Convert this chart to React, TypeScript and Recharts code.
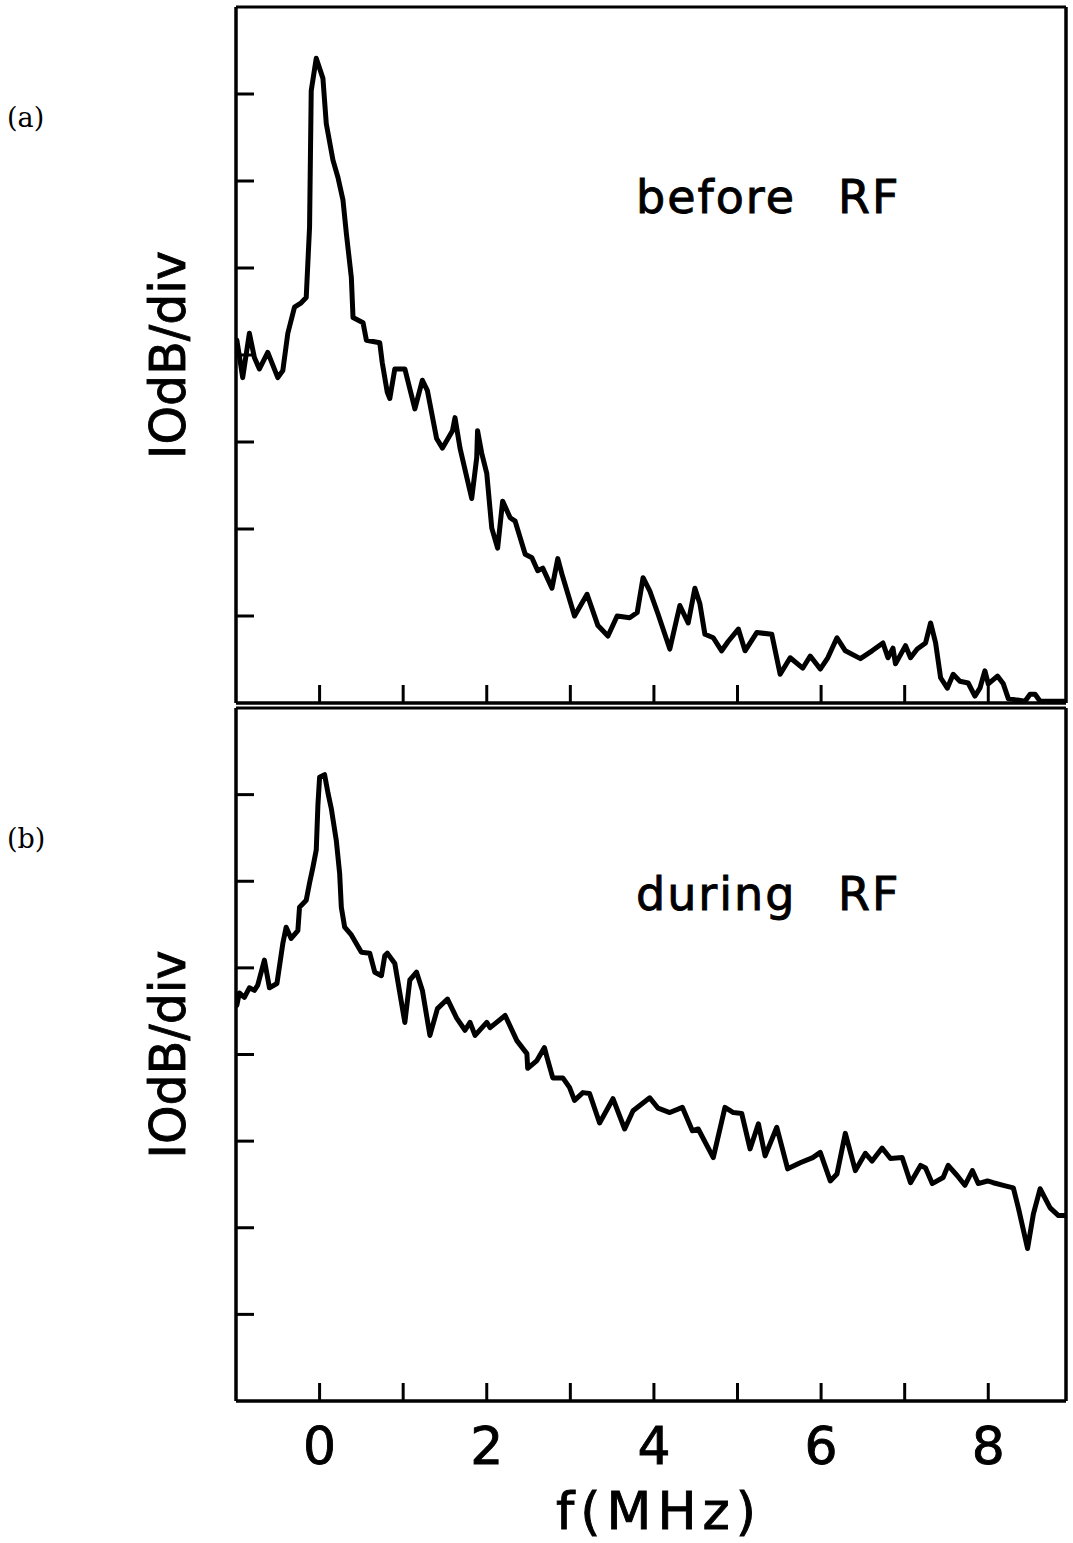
import React from 'react';
import { LineChart, Line, XAxis, YAxis, Customized } from 'recharts';

// Spectrum before RF: [frequency (MHz), level (divisions of 10 dB)]
const beforeRF: [number, number][] = [
  [-0.99, 4.17], [-0.96, 3.99], [-0.92, 3.74], [-0.84, 4.25], [-0.78, 3.97], [-0.72, 3.84], [-0.62, 4.03],
  [-0.5, 3.74], [-0.44, 3.82], [-0.38, 4.25], [-0.3, 4.55], [-0.22, 4.6], [-0.16, 4.66], [-0.12, 5.47],
  [-0.1, 7.04], [-0.04, 7.41], [0.04, 7.18], [0.08, 6.66], [0.16, 6.24], [0.22, 6.04], [0.28, 5.78],
  [0.32, 5.4], [0.38, 4.89], [0.4, 4.43], [0.52, 4.37], [0.56, 4.17], [0.72, 4.14], [0.75, 3.91],
  [0.81, 3.57], [0.84, 3.5], [0.9, 3.84], [1.02, 3.84], [1.14, 3.38], [1.23, 3.71], [1.29, 3.59],
  [1.4, 3.04], [1.47, 2.93], [1.59, 3.13], [1.62, 3.28], [1.68, 2.93], [1.82, 2.35], [1.88, 2.82],
  [1.89, 3.13], [1.94, 2.87], [2.0, 2.64], [2.06, 2.01], [2.13, 1.78], [2.19, 2.32], [2.28, 2.13],
  [2.34, 2.09], [2.46, 1.71], [2.54, 1.67], [2.61, 1.52], [2.67, 1.55], [2.78, 1.32], [2.85, 1.66],
  [2.9, 1.48], [3.05, 1.0], [3.2, 1.25], [3.33, 0.89], [3.45, 0.77], [3.56, 1.0], [3.71, 0.98],
  [3.8, 1.04], [3.87, 1.44], [3.95, 1.29], [4.05, 1.02], [4.19, 0.62], [4.31, 1.12], [4.41, 0.92],
  [4.49, 1.32], [4.55, 1.14], [4.61, 0.79], [4.71, 0.75], [4.81, 0.6], [4.89, 0.71], [5.01, 0.85],
  [5.09, 0.6], [5.23, 0.81], [5.41, 0.79], [5.51, 0.33], [5.63, 0.52], [5.78, 0.4], [5.87, 0.54],
  [5.99, 0.39], [6.08, 0.52], [6.19, 0.75], [6.29, 0.6], [6.47, 0.51], [6.61, 0.6], [6.74, 0.69],
  [6.8, 0.52], [6.86, 0.63], [6.89, 0.45], [7.01, 0.66], [7.07, 0.52], [7.15, 0.62], [7.25, 0.69],
  [7.31, 0.92], [7.37, 0.69], [7.43, 0.29], [7.51, 0.17], [7.58, 0.33], [7.66, 0.25], [7.76, 0.23],
  [7.84, 0.08], [7.9, 0.17], [7.96, 0.37], [8.0, 0.22], [8.11, 0.31], [8.18, 0.22], [8.24, 0.05],
  [8.44, 0.02], [8.5, 0.1], [8.56, 0.1], [8.62, 0.02], [8.93, 0.02],
];

// Spectrum during RF: [frequency (MHz), level (divisions of 10 dB)]
const duringRF: [number, number][] = [
  [-0.99, 4.57], [-0.96, 4.71], [-0.9, 4.66], [-0.84, 4.77], [-0.78, 4.74], [-0.74, 4.8], [-0.66, 5.09],
  [-0.6, 4.77], [-0.51, 4.82], [-0.44, 5.28], [-0.4, 5.47], [-0.34, 5.34], [-0.26, 5.43], [-0.24, 5.7],
  [-0.16, 5.78], [-0.12, 5.98], [-0.08, 6.16], [-0.04, 6.36], [-0.02, 6.88], [0.0, 7.2], [0.06, 7.23],
  [0.1, 7.02], [0.14, 6.84], [0.2, 6.47], [0.24, 6.09], [0.26, 5.7], [0.3, 5.47], [0.38, 5.38],
  [0.5, 5.18], [0.6, 5.17], [0.66, 4.95], [0.74, 4.91], [0.78, 5.14], [0.81, 5.17], [0.9, 5.05],
  [1.02, 4.37], [1.08, 4.86], [1.16, 4.95], [1.23, 4.74], [1.32, 4.22], [1.41, 4.53], [1.53, 4.64],
  [1.64, 4.42], [1.74, 4.28], [1.8, 4.37], [1.86, 4.22], [2.0, 4.37], [2.04, 4.31], [2.22, 4.45],
  [2.36, 4.16], [2.48, 4.01], [2.49, 3.84], [2.6, 3.93], [2.69, 4.08], [2.72, 3.97], [2.79, 3.73],
  [2.91, 3.73], [2.99, 3.62], [3.05, 3.47], [3.15, 3.56], [3.23, 3.55], [3.35, 3.21], [3.51, 3.49],
  [3.65, 3.14], [3.75, 3.35], [3.95, 3.5], [4.05, 3.38], [4.19, 3.33], [4.34, 3.39], [4.46, 3.12],
  [4.53, 3.14], [4.71, 2.81], [4.85, 3.39], [4.95, 3.33], [5.05, 3.32], [5.15, 2.91], [5.25, 3.2],
  [5.33, 2.83], [5.47, 3.16], [5.6, 2.68], [5.75, 2.75], [5.9, 2.81], [5.99, 2.87], [6.11, 2.54],
  [6.19, 2.62], [6.29, 3.09], [6.41, 2.66], [6.53, 2.86], [6.61, 2.77], [6.73, 2.92], [6.83, 2.8],
  [6.97, 2.81], [7.07, 2.52], [7.19, 2.72], [7.25, 2.69], [7.33, 2.51], [7.46, 2.58], [7.52, 2.72],
  [7.63, 2.6], [7.72, 2.49], [7.81, 2.66], [7.88, 2.51], [7.99, 2.54], [8.06, 2.52], [8.18, 2.49],
  [8.3, 2.46], [8.36, 2.23], [8.47, 1.76], [8.54, 2.16], [8.62, 2.45], [8.74, 2.23], [8.84, 2.14],
  [8.93, 2.14],
];

const xTicks = [0, 1, 2, 3, 4, 5, 6, 7, 8];
const xTickLabels = [0, 2, 4, 6, 8];
const yTicks = [1, 2, 3, 4, 5, 6, 7];
const xDomain: [number, number] = [-1, 8.93];
const yDomain: [number, number] = [0, 8];

const panelLetters = ['(a)', '(b)'];
const panelTitles = [['before', 'RF'], ['during', 'RF']];
const yAxisTitle = 'IOdB/div';
const xAxisTitle = 'f(MHz)';

const SANS = '"DejaVu Sans", sans-serif';
const SERIF = '"DejaVu Serif", serif';
const INK = '#000';

const toRows = (pairs: [number, number][]) => pairs.map(([f, v]) => ({ f, v }));

const NoLabel = () => <g />;

const YTitle = (props: any) => {
  const vb = props && props.viewBox ? props.viewBox : { x: 236, y: 7, height: 695 };
  const cx = vb.x - 51;
  const cy = vb.y + vb.height / 2;
  return (
    <text
      x={cx}
      y={cy}
      transform={`rotate(-90 ${cx} ${cy})`}
      textAnchor="middle"
      fontSize={49}
      fontFamily={SANS}
      fill={INK}
      stroke={INK}
      strokeWidth={0.9}
    >
      {yAxisTitle}
    </text>
  );
};

const makeAnnotations = (idx: number, letterY: number, titleY: number) => () => (
  <g>
    <text x={7} y={letterY} fontSize={27} fontFamily={SERIF} fill={INK}>
      {panelLetters[idx]}
    </text>
    <text y={titleY} fontSize={46} fontFamily={SANS} fill={INK} stroke={INK} strokeWidth={0.9} letterSpacing={2}>
      <tspan x={636}>{panelTitles[idx][0]}</tspan>
      <tspan x={838}>{panelTitles[idx][1]}</tspan>
    </text>
  </g>
);

const TopAnnot = makeAnnotations(0, 127, 213);
const BottomAnnot = makeAnnotations(1, 143, 205);

const frameLine = { stroke: INK, strokeWidth: 3.5 };
const tickLineStyle = { stroke: INK, strokeWidth: 3 };

function Panel({
  rows,
  height,
  margin,
  annot,
  withLabels,
}: {
  rows: { f: number; v: number }[];
  height: number;
  margin: { top: number; right: number; bottom: number; left: number };
  annot: () => React.ReactElement;
  withLabels: boolean;
}) {
  return (
    <LineChart width={1073} height={height} data={rows} margin={margin}>
      <XAxis
        xAxisId="b"
        dataKey="f"
        type="number"
        domain={xDomain}
        ticks={xTicks}
        allowDataOverflow
        orientation="bottom"
        mirror
        height={1}
        tickSize={18}
        tick={NoLabel}
        tickLine={tickLineStyle}
        axisLine={frameLine}
        interval={0}
      />
      {withLabels && (
        <XAxis
          xAxisId="lab"
          dataKey="f"
          type="number"
          domain={xDomain}
          ticks={xTickLabels}
          allowDataOverflow
          orientation="bottom"
          height={142}
          tickSize={0}
          tickMargin={26}
          tickLine={false}
          axisLine={false}
          interval={0}
          tick={{ fontSize: 52, fontFamily: SANS, fill: INK, stroke: INK, strokeWidth: 0.9 }}
          label={{
            value: xAxisTitle,
            position: 'insideBottom',
            offset: 14,
            dx: 8,
            fontSize: 52,
            fontFamily: SANS,
            fill: INK,
            stroke: INK,
            strokeWidth: 0.9,
            letterSpacing: 6,
          }}
        />
      )}
      <XAxis
        xAxisId="t"
        dataKey="f"
        type="number"
        domain={xDomain}
        allowDataOverflow
        orientation="top"
        height={1}
        tick={false}
        tickLine={false}
        axisLine={{ stroke: INK, strokeWidth: 3 }}
      />
      <YAxis
        yAxisId="l"
        type="number"
        domain={yDomain}
        ticks={yTicks}
        allowDataOverflow
        orientation="left"
        mirror
        width={1}
        tickSize={18}
        tick={NoLabel}
        tickLine={tickLineStyle}
        axisLine={frameLine}
        interval={0}
        label={{ content: YTitle }}
      />
      <YAxis
        yAxisId="r"
        type="number"
        domain={yDomain}
        allowDataOverflow
        orientation="right"
        width={1}
        tick={false}
        tickLine={false}
        axisLine={frameLine}
      />
      <Line
        xAxisId="b"
        yAxisId="l"
        type="linear"
        dataKey="v"
        stroke={INK}
        strokeWidth={5}
        strokeLinejoin="round"
        strokeLinecap="round"
        dot={false}
        activeDot={false}
        isAnimationActive={false}
      />
      <Customized component={annot} />
    </LineChart>
  );
}

export default function App() {
  return (
    <div style={{ position: 'absolute', left: 0, top: 0, width: 1073, height: 1543, background: '#fff' }}>
      <div style={{ position: 'absolute', left: 0, top: 0 }}>
        <Panel
          rows={toRows(beforeRF)}
          height={705}
          margin={{ top: 6, right: 6, bottom: 2, left: 236 }}
          annot={TopAnnot}
          withLabels={false}
        />
      </div>
      <div style={{ position: 'absolute', left: 0, top: 705 }}>
        <Panel
          rows={toRows(duringRF)}
          height={838}
          margin={{ top: 2, right: 6, bottom: 0, left: 236 }}
          annot={BottomAnnot}
          withLabels={true}
        />
      </div>
    </div>
  );
}
